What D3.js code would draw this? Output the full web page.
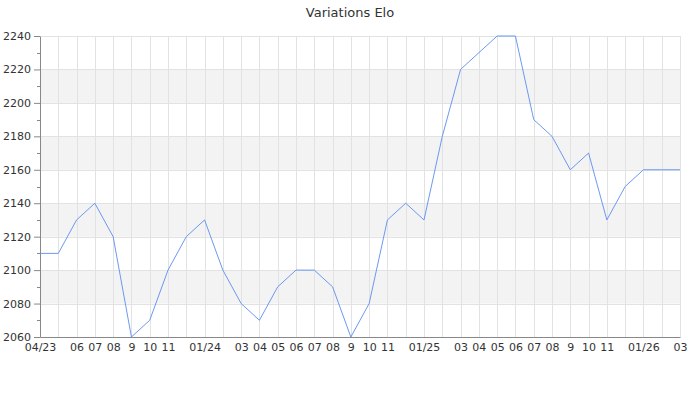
<!DOCTYPE html>
<meta charset="utf-8">
<script src="https://d3js.org/d3.v7.min.js"></script>
<style>
  body { margin: 0; background: #fff; }
  text { font-family: "DejaVu Sans", sans-serif; }
</style>
<body>
<div id="chart"></div>
<script>
  // monthly Elo, 04/23 .. 03/26
  var months = d3.range(36);
  var elo = [2110, 2110, 2130, 2140, 2120, 2060, 2070, 2100, 2120, 2130, 2100, 2080,
             2070, 2090, 2100, 2100, 2090, 2060, 2080, 2130, 2140, 2130, 2180, 2220,
             2230, 2240, 2240, 2190, 2180, 2160, 2170, 2130, 2150, 2160, 2160, 2160];
  var tickLabels = ["04/23", "", "06", "07", "08", "9", "10", "11", "", "01/24", "", "03",
                    "04", "05", "06", "07", "08", "9", "10", "11", "", "01/25", "", "03",
                    "04", "05", "06", "07", "08", "9", "10", "11", "", "01/26", "", "03"];
  var yTicks = [2060, 2080, 2100, 2120, 2140, 2160, 2180, 2200, 2220, 2240];

  var margin = { top: 36, right: 20, bottom: 63, left: 40 },
    width = 700 - margin.left - margin.right,
    height = 400 - margin.top - margin.bottom;

  var root = d3.select("#chart").append("svg")
    .attr("width", 700)
    .attr("height", 400);

  root.append("text")
    .attr("x", 350)
    .attr("y", 17)
    .attr("text-anchor", "middle")
    .style("font-size", "13px")
    .style("fill", "#333")
    .text("Variations Elo");

  var svg = root.append("g")
    .attr("transform", "translate(" + margin.left + "," + margin.top + ")");

  var x = d3.scaleLinear().domain([0, 35]).range([0, width]);
  var y = d3.scaleLinear().domain([2060, 2240]).range([height, 0]);

  // alternating bands
  var bands = [[2200, 2220], [2160, 2180], [2120, 2140], [2080, 2100]];
  svg.selectAll(".band")
    .data(bands)
    .enter().append("rect")
    .attr("x", 0)
    .attr("width", width)
    .attr("y", function (d) { return y(d[1]); })
    .attr("height", function (d) { return y(d[0]) - y(d[1]); })
    .attr("fill", "#f3f3f3");

  // grid
  svg.selectAll(".vgrid")
    .data(months)
    .enter().append("line")
    .attr("x1", function (d) { return Math.round(x(d)) + 0.5; })
    .attr("x2", function (d) { return Math.round(x(d)) + 0.5; })
    .attr("y1", 0)
    .attr("y2", height)
    .attr("stroke", "#e2e2e2");

  svg.selectAll(".hgrid")
    .data(yTicks)
    .enter().append("line")
    .attr("x1", 0)
    .attr("x2", width)
    .attr("y1", function (d) { return Math.round(y(d)) + 0.5; })
    .attr("y2", function (d) { return Math.round(y(d)) + 0.5; })
    .attr("stroke", "#e2e2e2");

  // y axis with minor ticks
  var minor = d3.range(2070, 2240, 20);
  svg.selectAll(".minor")
    .data(minor)
    .enter().append("line")
    .attr("x1", -3)
    .attr("x2", 0)
    .attr("y1", function (d) { return Math.round(y(d)) + 0.5; })
    .attr("y2", function (d) { return Math.round(y(d)) + 0.5; })
    .attr("stroke", "#888");

  var yAxis = svg.append("g")
    .call(d3.axisLeft(y).tickValues(yTicks).tickFormat(d3.format("d"))
      .tickSize(6).tickSizeOuter(0).tickPadding(3));
  yAxis.select(".domain").attr("stroke", "#888");
  yAxis.selectAll(".tick line").attr("stroke", "#888");
  yAxis.selectAll(".tick text")
    .style("font-size", "11px")
    .style("font-family", "DejaVu Sans, sans-serif")
    .attr("fill", "#333");

  // x axis
  var xAxis = svg.append("g")
    .attr("transform", "translate(0," + height + ")")
    .call(d3.axisBottom(x).tickValues(months)
      .tickFormat(function (d) { return tickLabels[d]; })
      .tickSize(0).tickPadding(6));
  xAxis.select(".domain").attr("stroke", "#888");
  xAxis.selectAll(".tick text")
    .style("font-size", "11px")
    .style("font-family", "DejaVu Sans, sans-serif")
    .attr("fill", "#333");

  // line
  svg.append("path")
    .datum(elo)
    .attr("fill", "none")
    .attr("stroke", "#5b8def")
    .attr("stroke-width", 0.9)
    .attr("d", d3.line()
      .x(function (d, i) { return x(i); })
      .y(function (d) { return y(d); }));
</script>
</body>
